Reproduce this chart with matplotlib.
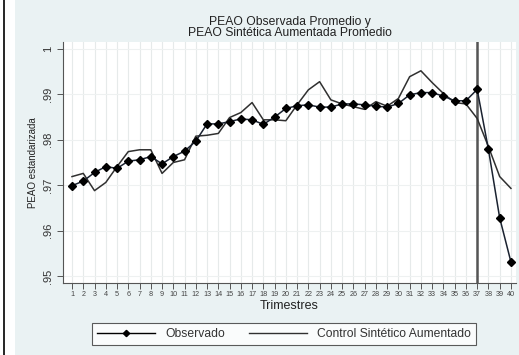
import matplotlib
matplotlib.use("Agg")
import matplotlib.pyplot as plt
from matplotlib.patches import Rectangle
from matplotlib.lines import Line2D

plt.rcParams['font.family'] = ['Liberation Sans', 'DejaVu Sans']

quarters = list(range(1, 41))
observado = [0.9699, 0.9709, 0.9728, 0.9741, 0.9737, 0.9753, 0.9756, 0.9763, 0.9747, 0.9763,
             0.9775, 0.9797, 0.9835, 0.9835, 0.9840, 0.9846, 0.9844, 0.9834, 0.9850, 0.9869,
             0.9875, 0.9877, 0.9872, 0.9872, 0.9879, 0.9879, 0.9877, 0.9874, 0.9872, 0.9880,
             0.9899, 0.9904, 0.9904, 0.9896, 0.9886, 0.9886, 0.9911, 0.9779, 0.9628, 0.9531]
sintetico = [0.9719, 0.9726, 0.9688, 0.9706, 0.9741, 0.9774, 0.9778, 0.9778, 0.9726, 0.9750,
             0.9756, 0.9808, 0.9810, 0.9814, 0.9849, 0.9860, 0.9882, 0.9844, 0.9844, 0.9842,
             0.9877, 0.9910, 0.9928, 0.9888, 0.9879, 0.9873, 0.9867, 0.9884, 0.9874, 0.9891,
             0.9939, 0.9952, 0.9926, 0.9902, 0.9882, 0.9879, 0.9847, 0.9785, 0.9719, 0.9693]
y_ticks = [0.95, 0.96, 0.97, 0.98, 0.99, 1.0]
y_labels = ['.95', '.96', '.97', '.98', '.99', '1']
treatment_quarter = 37

W, H = 519, 355
fig = plt.figure(figsize=(W / 100, H / 100), dpi=100, facecolor='white')

# graph region background and left frame line
bg = Rectangle((15 / W, 0), 1 - 15 / W, 1, transform=fig.transFigure,
               facecolor='#eaf2f3', edgecolor='none', zorder=-10)
fig.patches.append(bg)
fig.lines.append(Line2D([4 / W, 4 / W], [0, 1], transform=fig.transFigure,
                        color='black', lw=1.2, zorder=-5))

ax = fig.add_axes([63 / W, 1 - 283 / H, (516 - 63) / W, (283 - 42) / H])
ax.set_zorder(5)
ax.set_facecolor('white')

ax.set_xlim(0.2, 40.45)
ax.set_ylim(0.94846, 1.00154)

for q in quarters:
    ax.axvline(q, color='#e6eaea', lw=0.8, zorder=0)
for yt in y_ticks:
    ax.axhline(yt, color='#eef1f1', lw=0.8, zorder=0)

ax.axvline(treatment_quarter, color='#555555', lw=1.8, zorder=1)

ax.plot(quarters, sintetico, color='#303030', lw=1.1, zorder=2)
ax.plot(quarters, observado, color='#1a2230', lw=1.1, marker='D', markersize=4.3,
        markerfacecolor='black', markeredgecolor='black', zorder=3)

ax.set_xticks(quarters)
ax.set_xticklabels([str(q) for q in quarters], fontsize=5.2, color='#444444')
ax.set_yticks(y_ticks)
ax.set_yticklabels(y_labels, fontsize=8, rotation=90, va='center', color='#333333')
ax.tick_params(axis='x', direction='out', length=4, width=0.7, color='#555555', pad=2)
ax.tick_params(axis='y', direction='out', length=4, width=0.7, color='#555555', pad=3)

for s in ['top', 'right']:
    ax.spines[s].set_visible(False)
for s in ['left', 'bottom']:
    ax.spines[s].set_color('#555555')
    ax.spines[s].set_linewidth(0.8)

ax.set_xlabel('Trimestres', fontsize=9, color='#222222', labelpad=1)
ax.set_ylabel('PEAO estandarizada', fontsize=7, color='#222222', labelpad=4)
ax.set_title('PEAO Observada Promedio y\nPEAO Sintética Aumentada Promedio',
             fontsize=8.7, color='#222222', linespacing=0.95, pad=4)

handles = [Line2D([], [], color='black', lw=1, marker='D', markersize=3.2),
           Line2D([], [], color='#303030', lw=1)]
leg = fig.legend(handles, ['Observado', 'Control Sintético Aumentado'],
                 loc='center', bbox_to_anchor=(284 / W, 1 - 334 / H), ncol=2,
                 fontsize=8.7, frameon=True, fancybox=False, handlelength=4.8,
                 columnspacing=2, borderpad=0.45, handletextpad=0.8,
                 labelcolor='#333333')
leg.get_frame().set_edgecolor('#333333')
leg.get_frame().set_linewidth(0.8)

fig.savefig('out.png', dpi=100, facecolor=fig.get_facecolor())
